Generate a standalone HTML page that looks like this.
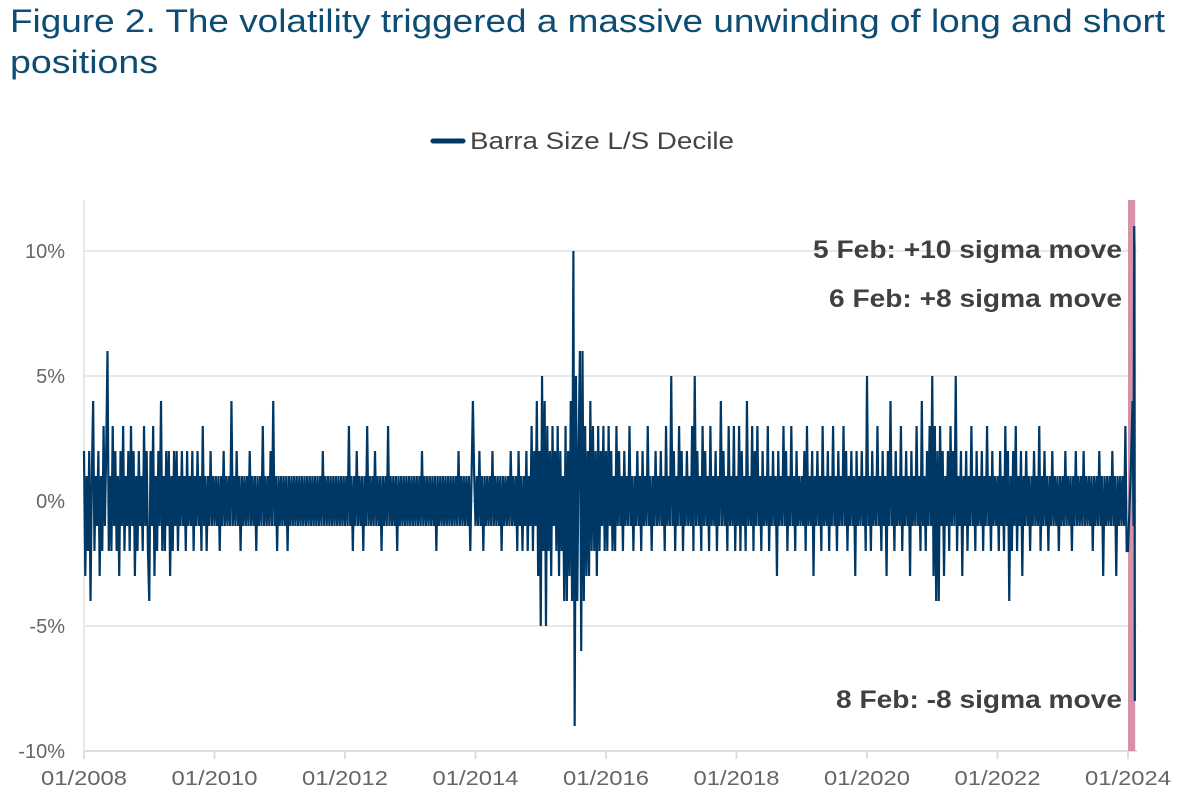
<!DOCTYPE html>
<html><head><meta charset="utf-8"><style>
body{margin:0;background:#fff;width:1191px;height:802px;overflow:hidden;font-family:"Liberation Sans",sans-serif}
</style></head><body>
<svg id="c" width="1191" height="802" xmlns="http://www.w3.org/2000/svg">
<text x="10" y="32" font-size="32" fill="#0e4d73" textLength="1155" lengthAdjust="spacingAndGlyphs">Figure 2. The volatility triggered a massive unwinding of long and short</text>
<text x="10" y="73" font-size="32" fill="#0e4d73" textLength="148" lengthAdjust="spacingAndGlyphs">positions</text>
<g>
<line x1="433" y1="141" x2="463" y2="141" stroke="#003865" stroke-width="5" stroke-linecap="round"/>
<text x="470" y="149" font-size="24" fill="#444" textLength="264" lengthAdjust="spacingAndGlyphs">Barra Size L/S Decile</text>
</g>
<g id="grid"></g><g id="band"></g><g id="series"></g><g id="axes"></g>
<g font-size="25" font-weight="bold" fill="#404040">
<text x="813" y="258" textLength="309" lengthAdjust="spacingAndGlyphs">5 Feb: +10 sigma move</text>
<text x="829" y="307" textLength="293" lengthAdjust="spacingAndGlyphs">6 Feb: +8 sigma move</text>
<text x="836" y="708" textLength="286" lengthAdjust="spacingAndGlyphs">8 Feb: -8 sigma move</text>
</g>
</svg>
<script>
const yTicks=[10,5,0,-5,-10];
const yTickLabels=["10%","5%","0%","-5%","-10%"];
const xTicks=[2008,2010,2012,2014,2016,2018,2020,2022,2024];
const xTickLabels=["01/2008","01/2010","01/2012","01/2014","01/2016","01/2018","01/2020","01/2022","01/2024"];
const startYear=2008, pointsPerYear=50;
const values=[
2,-3,1,-2,2,-4,1,4,-2,1,-1,2,-3,1,-2,3,-1,2,6,-2,1,-2,3,-1,2,
-2,1,-3,2,-1,3,-2,1,-1,2,-2,3,-1,2,-3,1,-2,2,-1,1,-2,3,-1,2,-2,
-4,2,-1,3,-3,1,-2,2,-1,4,-2,1,-2,2,-1,2,-3,1,-2,2,-1,2,-2,1,-1,
2,-1,1,-2,2,-1,1,-1,2,-2,1,-1,2,-1,1,-2,3,-1,1,-2,1,-1,2,-1,1,
-1,1,-1,1,-2,1,-1,2,-1,1,-1,1,-1,4,-1,1,-1,2,-1,1,-2,1,-1,1,-1,
1,-1,2,-1,1,-1,1,-2,1,-1,1,-1,3,-1,1,-1,1,-1,2,-1,4,-1,1,-2,1,
-1,1,-1,1,-1,1,-2,1,-1,1,-1,1,-1,1,-1,1,-1,1,-1,1,-1,1,-1,1,-1,
1,-1,1,-1,1,-1,1,-1,2,-1,1,-1,1,-1,1,-1,1,-1,1,-1,1,-1,1,-1,1,
-1,1,-1,3,-1,1,-2,1,-1,2,-1,1,-1,1,-2,1,-1,3,-1,1,-1,1,-1,2,-1,
1,-1,1,-2,1,-1,1,-1,3,-1,1,-1,1,-1,1,-2,1,-1,1,-1,1,-1,1,-1,1,
-1,1,-1,1,-1,1,-1,1,-1,2,-1,1,-1,1,-1,1,-1,1,-1,1,-2,1,-1,1,-1,
1,-1,1,-1,1,-1,1,-1,1,-1,1,-1,2,-1,1,-1,1,-1,1,-1,1,-2,1,4,1,
-1,1,-1,2,-1,1,-2,1,-1,1,-1,1,-1,2,-1,1,-1,1,-1,1,-2,1,-1,1,-1,
1,-1,2,-1,1,-1,1,-2,2,-1,1,-2,1,-1,2,-2,1,-1,3,-2,2,-1,4,-3,2,
-5,5,-2,4,-5,3,-2,2,-3,3,-1,2,-2,3,-3,2,-2,1,-4,3,-4,2,-3,4,-4,
10,-9,5,-4,2,6,-6,6,-4,3,-3,2,-3,4,-2,3,-2,2,-3,3,-2,2,-1,3,-2,
2,-2,3,-1,2,-2,1,-2,3,-1,2,-1,1,-2,2,-1,1,-1,3,-1,1,-2,1,-1,2,
-1,1,-2,2,-1,1,-1,3,-1,1,-2,1,-1,2,-1,1,-1,2,-1,1,-2,3,-1,1,-1,
5,-1,2,-2,1,-1,3,-1,2,-2,1,-1,2,-1,1,-1,3,-2,5,-1,2,-1,1,-2,3,
-1,2,-1,1,-2,3,-1,1,-1,2,-2,1,-1,4,-1,2,-1,1,-2,3,-1,1,-1,3,-2,
1,-1,3,-2,2,-1,1,-2,4,-1,1,-1,3,-2,2,-1,3,-1,1,-2,2,-1,1,-1,3,
-2,1,-1,2,-1,1,-3,2,-1,1,-1,3,-1,2,-2,1,-1,3,-1,1,-2,2,-1,1,-1,
1,-1,2,-2,3,-1,1,-1,2,-3,1,-1,2,-1,1,-2,3,-1,1,-1,2,-2,1,-1,3,
-1,1,-2,2,-1,1,-1,3,-1,2,-2,1,-1,2,-1,1,-3,2,-1,1,-1,2,-1,1,-2,
5,-1,1,-2,2,-1,1,-1,3,-1,1,-2,2,-1,1,-3,2,-1,4,-1,1,-2,2,-1,1,
-1,3,-2,1,-1,2,-1,1,-3,2,-1,1,-1,3,-1,1,-2,4,-1,1,-2,2,-1,3,-1,
5,-3,3,-4,2,-4,3,-1,2,-3,1,-1,2,-2,3,-1,2,-1,5,-2,1,-1,2,-3,1,
-1,2,-2,1,-1,3,-1,1,-2,2,-1,1,-1,2,-2,1,-1,3,-1,1,-2,2,-1,1,-1,
1,-2,2,-1,1,-2,3,-1,2,-4,1,-2,2,-1,3,-2,1,-1,2,-3,1,-1,2,-1,1,
-2,1,-1,2,-1,1,-1,3,-2,1,-1,2,-1,1,-2,1,-1,2,-1,1,-1,1,-2,1,-1,
1,-1,2,-1,1,-1,1,-2,1,-1,2,-1,1,-1,1,-1,2,-1,1,-1,1,-1,1,-2,1,
-1,1,-1,2,-1,1,-3,1,-1,1,-1,1,-1,2,-1,1,-3,1,-1,1,-1,1,-1,3,-2];
const eventDates=[2024.0,2024.04,2024.07,2024.085,2024.095,2024.1,2024.105];
const eventValues=[-2,1,4,-1,11,10,-8];
const NS="http://www.w3.org/2000/svg";
const X0=84,X1=1128,Y0=501,PX=25;
const xs=t=>X0+(t-2008)*(X1-X0)/16;
const ys=v=>Y0-v*PX;
function mk(tag,attrs,parent){const e=document.createElementNS(NS,tag);for(const k in attrs)e.setAttribute(k,attrs[k]);parent.appendChild(e);return e;}
const grid=document.getElementById('grid'),axes=document.getElementById('axes');
yTicks.forEach((v,i)=>{
 const l=mk('line',{x1:X0,x2:1137,y1:ys(v),y2:ys(v),stroke:v===-10?'#ddd':'#e8e8e8','stroke-width':2},grid);
 
 
 const t=mk('text',{x:65,y:ys(v)+7,'font-size':20,fill:'#666','text-anchor':'end'},axes);
 t.textContent=yTickLabels[i];
 
 
});
const vl=mk('line',{x1:X0,x2:X0,y1:200,y2:751,stroke:'#e8e8e8','stroke-width':2},grid);


xTicks.forEach((v,i)=>{
 const tk=mk('line',{x1:xs(v),x2:xs(v),y1:751,y2:759,stroke:'#ddd','stroke-width':2},axes);
 
 
 const t=mk('text',{x:xs(v)-43,y:785,'font-size':20,fill:'#666',textLength:86,lengthAdjust:'spacingAndGlyphs'},axes);
 t.textContent=xTickLabels[i];
 
 
});
const band=mk('rect',{x:xs(2024.0),y:200,width:xs(2024.11)-xs(2024.0),height:551,fill:'#d48aa3',opacity:0.95},document.getElementById('band'));


let d='';
values.forEach((v,i)=>{d+=(i?'L':'M')+xs(startYear+i/pointsPerYear).toFixed(2)+','+ys(v)+' ';});
eventDates.forEach((t,i)=>{d+='L'+xs(t).toFixed(2)+','+ys(eventValues[i])+' ';});
const p=mk('path',{d:d,fill:'none',stroke:'#003865','stroke-width':2.2,'stroke-linejoin':'miter'},document.getElementById('series'));


</script>
</body></html>
